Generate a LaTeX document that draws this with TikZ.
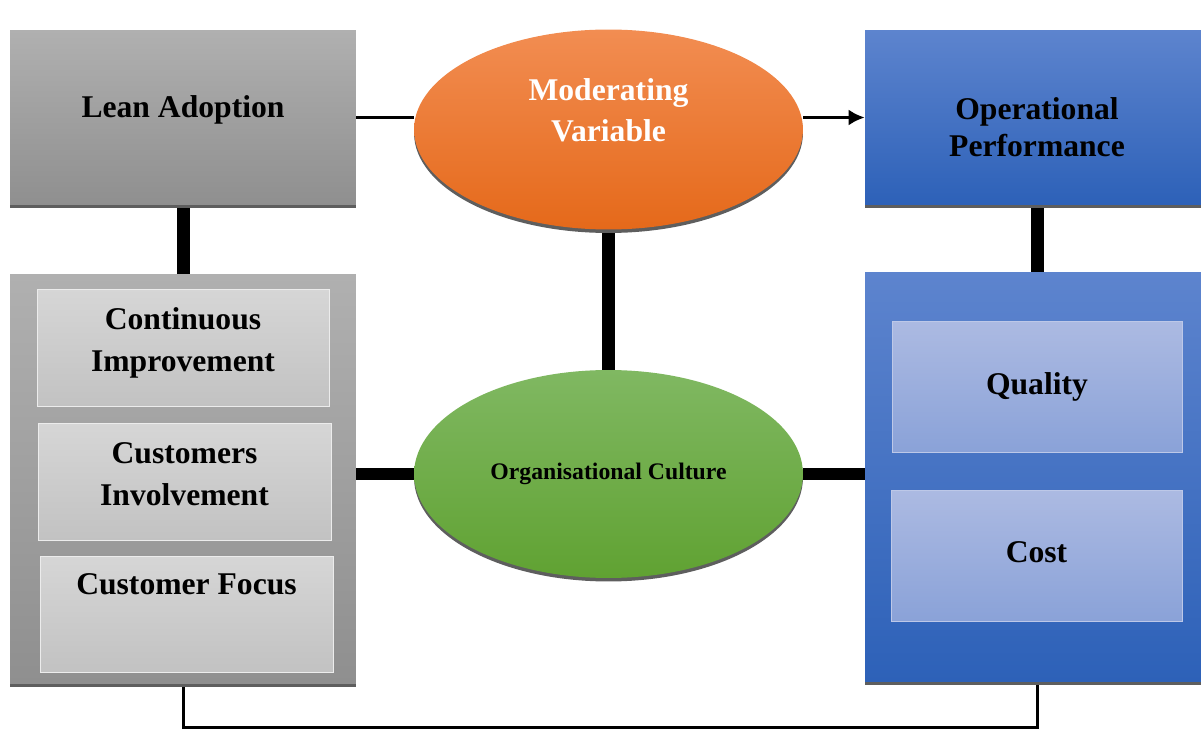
\documentclass[tikz,border=0pt]{standalone}
\usepackage{fontspec}
\setmainfont{Liberation Serif}
\usetikzlibrary{arrows.meta,shapes.geometric,shadows,backgrounds}

\definecolor{greytop}{HTML}{B0B0B0}
\definecolor{greybot}{HTML}{8F8F8F}
\definecolor{subgreytop}{HTML}{D6D6D6}
\definecolor{subgreybot}{HTML}{C2C2C2}
\definecolor{bluetop}{HTML}{5D84CE}
\definecolor{bluebot}{HTML}{2D61B8}
\definecolor{subbluetop}{HTML}{ACBAE2}
\definecolor{subbluebot}{HTML}{8AA2D8}
\definecolor{orangetop}{HTML}{F28D52}
\definecolor{orangebot}{HTML}{E5691A}
\definecolor{greentop}{HTML}{80B862}
\definecolor{greenbot}{HTML}{60A232}
\definecolor{shadowgrey}{HTML}{5E5E5E}

\begin{document}
\begin{tikzpicture}[x=0.02cm,y=-0.02cm]
\tikzstyle{every node}=[font=\fontsize{18}{24}\selectfont\bfseries, align=center, inner sep=0pt]
\tikzstyle{castshadow}=[drop shadow={shadow xshift=0pt, shadow yshift=-0.07cm, fill=shadowgrey, opacity=1}]
\tikzstyle{greyfill}=[rectangle, top color=greytop, bottom color=greybot, castshadow]
\tikzstyle{bluefill}=[rectangle, top color=bluetop, bottom color=bluebot, castshadow]
\tikzstyle{subgrey}=[rectangle, top color=subgreytop, bottom color=subgreybot, draw=white!85!gray, line width=0.4pt]
\tikzstyle{subblue}=[rectangle, top color=subbluetop, bottom color=subbluebot, draw=subbluetop!80!white, line width=0.4pt]
\tikzstyle{oval}=[ellipse, minimum width=7.78cm, castshadow]
\tikzstyle{thickline}=[line width=0.26cm]
\tikzstyle{thinline}=[line width=0.06cm]
\useasboundingbox (0,0) rectangle (1201,729);

% left column
\draw (183,117.5) node (lean) [greyfill, minimum width=6.92cm, minimum height=3.5cm] {};
\node (leantext) at ([yshift=0.15cm]lean.center) {Lean Adoption};
\draw (183,479) node (leanbox) [greyfill, minimum width=6.92cm, minimum height=8.2cm] {};
\draw (183,347.5) node (contimp) [subgrey, minimum width=5.84cm, minimum height=2.34cm] {};
\node (contimptext) at ([yshift=0.1cm]contimp.center) {Continuous\\Improvement};
\draw (184.5,481.5) node (custinv) [subgrey, minimum width=5.86cm, minimum height=2.34cm] {};
\node (custinvtext) at ([yshift=0.14cm]custinv.center) {Customers\\Involvement};
\draw (186.5,614) node (custfoc) [subgrey, minimum width=5.86cm, minimum height=2.32cm] {};
\node (custfoctext) at ([yshift=-0.58cm]custfoc.north) {Customer Focus};

% middle column
\draw (608.5,129.5) node (modvar) [oval, top color=orangetop, bottom color=orangebot, minimum height=4cm] {};
\node (modtext) [text=white, font=\fontsize{18}{23.3}\selectfont\bfseries] at ([yshift=0.39cm]modvar.center) {Moderating\\Variable};
\draw (608.5,474) node (orgcult) [oval, top color=greentop, bottom color=greenbot, minimum height=4.16cm,
  font=\fontsize{13.5}{16}\selectfont\bfseries] {Organisational Culture};

% right column
\draw (1037,117.5) node (opperf) [bluefill, minimum width=6.88cm, minimum height=3.5cm] {};
\node (opperftext) [font=\fontsize{18}{21}\selectfont\bfseries] at ([yshift=-0.2cm]opperf.center) {Operational\\Performance};
\draw (1037,477) node (perfbox) [bluefill, minimum width=6.88cm, minimum height=8.2cm] {};
\draw (1037,386.5) node (quality) [subblue, minimum width=5.8cm, minimum height=2.62cm] {Quality};
\draw (1036.5,555.5) node (cost) [subblue, minimum width=5.82cm, minimum height=2.62cm] {};
\node (costtext) at ([yshift=0.06cm]cost.center) {Cost};

% links
\begin{scope}[on background layer]
\draw[thinline] (lean.east) -- (lean.east -| modvar.west);
\draw[thinline, -{Latex[length=0.32cm,width=0.32cm]}] (lean.east -| modvar.east) -- (opperf.west);
\draw[thickline] (lean.south) -- (leanbox.north);
\draw[thickline] (opperf.south) -- (perfbox.north);
\draw[thickline] (modvar.south) -- (orgcult.north);
\draw[thickline] (leanbox.east |- orgcult.west) -- (orgcult.west);
\draw[thickline] (orgcult.east) -- (orgcult.east -| perfbox.west);
\draw[thinline] (leanbox.south) -- ++(0,43) -| (perfbox.south);
\end{scope}
\end{tikzpicture}
\end{document}
